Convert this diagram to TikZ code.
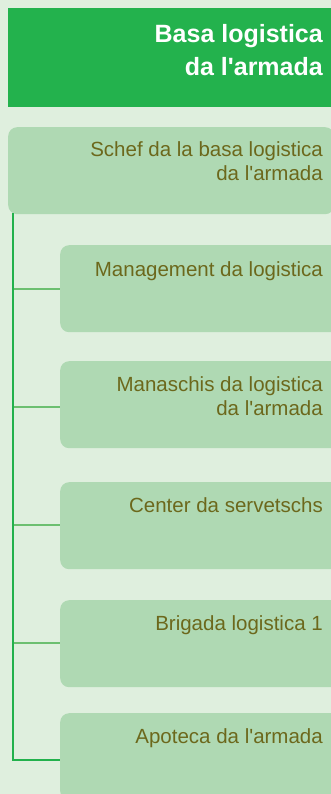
\documentclass[tikz,border=0pt]{standalone}
\usepackage{fontspec}
\setmainfont{Liberation Sans}
\definecolor{bgc}{RGB}{223,239,222}
\definecolor{titlec}{RGB}{35,178,77}
\definecolor{boxc}{RGB}{175,217,179}
\definecolor{txtc}{RGB}{108,104,28}
\definecolor{vlinec}{RGB}{34,177,76}
\definecolor{hlinec}{RGB}{108,191,112}
\tikzset{
  titlebox/.style={fill=titlec, draw=none, inner sep=0pt, anchor=north west, minimum width=330pt, minimum height=99pt},
  unitbox/.style={fill=boxc, draw=none, rounded corners=9pt, inner sep=0pt, anchor=north west, minimum width=280pt, minimum height=87pt},
  titletext/.style={text=white, inner sep=0pt, anchor=base east, font=\fontsize{25}{30}\selectfont\bfseries},
  unittext/.style={text=txtc, inner sep=0pt, anchor=base east, font=\fontsize{20.5}{24}\selectfont},
  vline/.style={draw=vlinec, line width=2pt},
  hline/.style={draw=hlinec, line width=2pt},
}
\newcommand{\apos}{\textquotesingle}
\begin{document}
\begin{tikzpicture}[x=1pt,y=-1pt]
\useasboundingbox (0,0) rectangle (331,794);
\clip (0,0) rectangle (331,794);
\fill[bgc] (0,0) rectangle (331,794);
% title
\node[titlebox] (title) at (8,8) {};
\node[titletext] (tt1) at (323,43) {Basa logistica};
\node[titletext] (tt2) at (323,76) {da l\apos armada};
% head unit
\node[unitbox, minimum width=326pt] (head) at (8,127) {};
\node[unittext] (h1) at (323,157) {Schef da la basa logistica};
\node[unittext] (h2) at (323,181) {da l\apos armada};
% sub units
\node[unitbox] (u1) at (60,245) {};
\node[unittext] (u1t) at (323,276) {Management da logistica};
\node[unitbox] (u2) at (60,361) {};
\node[unittext] (u2t) at (323,391) {Manaschis da logistica};
\node[unittext] (u2u) at (323,415) {da l\apos armada};
\node[unitbox] (u3) at (60,482) {};
\node[unittext] (u3t) at (323,512) {Center da servetschs};
\node[unitbox] (u4) at (60,600) {};
\node[unittext] (u4t) at (323,630) {Brigada logistica 1};
\node[unitbox] (u5) at (60,713) {};
\node[unittext] (u5t) at (323,743) {Apoteca da l\apos armada};
% connectors
\coordinate (vtop) at (13,213);
\coordinate (b1) at (13,289);
\coordinate (b2) at (13,407);
\coordinate (b3) at (13,525);
\coordinate (b4) at (13,643);
\coordinate (b5) at (13,760);
\draw[hline] (b1) -- (u1.west |- b1);
\draw[hline] (b2) -- (u2.west |- b2);
\draw[hline] (b3) -- (u3.west |- b3);
\draw[hline] (b4) -- (u4.west |- b4);
\draw[vline] (vtop) -- (b5) -- (u5.west |- b5);
\end{tikzpicture}
\end{document}
